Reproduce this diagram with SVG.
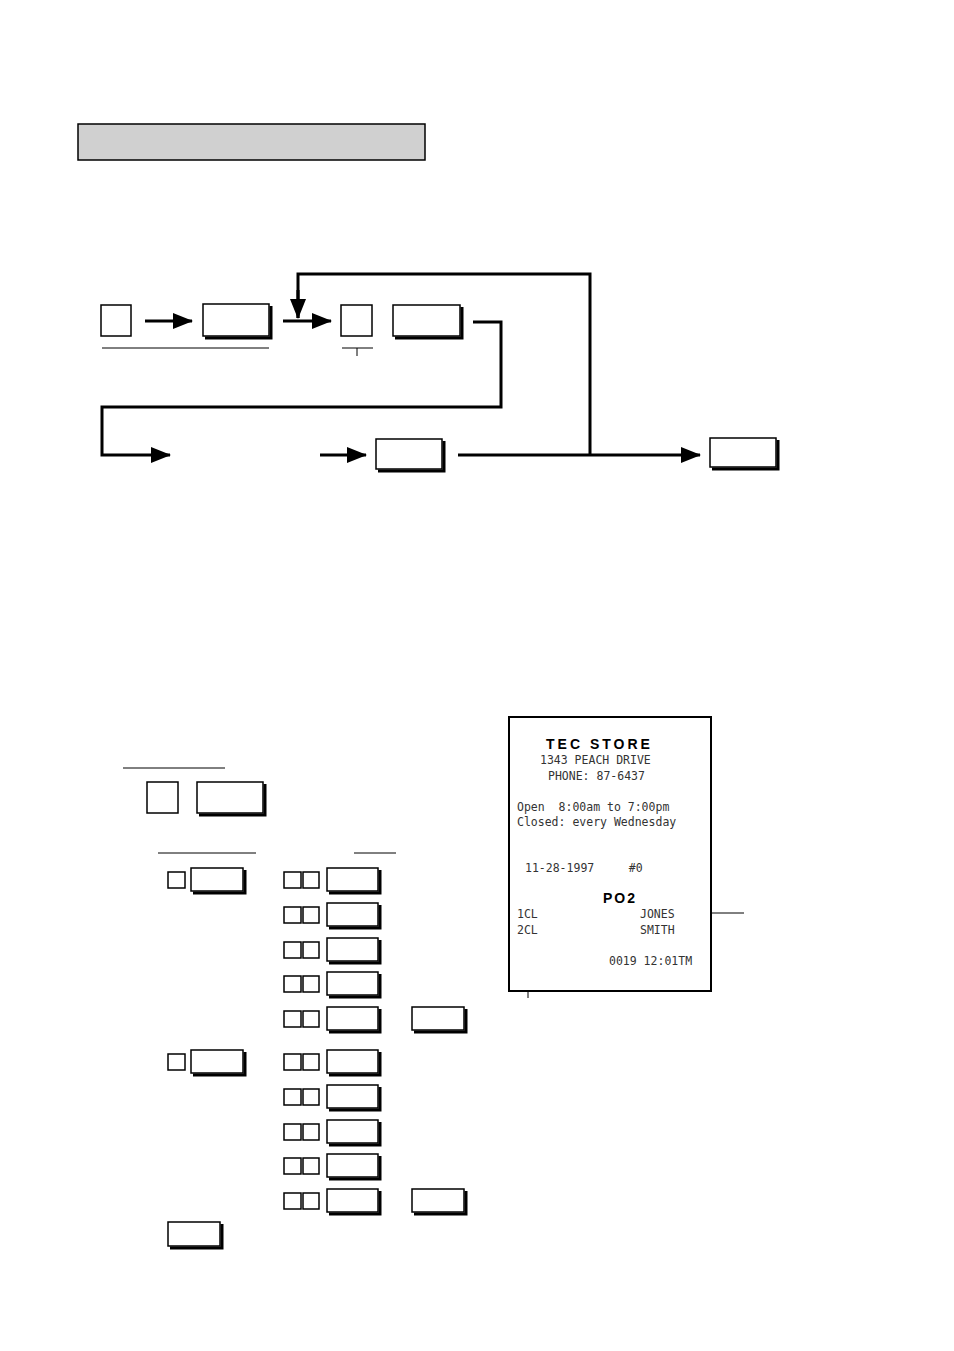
<svg xmlns="http://www.w3.org/2000/svg" width="954" height="1351" viewBox="0 0 954 1351">
<defs>
<style>
.b{fill:#fff;stroke:#000;stroke-width:1.5}
.s{fill:none;stroke:#000;stroke-width:3}
.l{fill:none;stroke:#000;stroke-width:3}
.t{fill:none;stroke:#000;stroke-width:1}
.m{font-family:"DejaVu Sans Mono","Liberation Mono",monospace;font-size:11.5px;fill:#333}
.h{font-family:"Liberation Sans",Arial,sans-serif;font-size:14px;font-weight:bold;letter-spacing:3px}
</style>
<marker id="a" markerWidth="8" markerHeight="6" refX="7" refY="3" orient="auto" markerUnits="userSpaceOnUse" viewBox="0 0 8 6"><path d="M0,0L8,3L0,6z"/></marker>
<marker id="A" viewBox="0 0 20 16" refX="19" refY="8" markerWidth="20" markerHeight="16" orient="auto" markerUnits="userSpaceOnUse"><path d="M0,0L20,8L0,16z"/></marker>
</defs>
<rect x="78" y="124" width="347" height="36" fill="#d0d0d0" stroke="#000" stroke-width="1.5"/>
<g id="connectors">
<path class="l" d="M145,321H192" marker-end="url(#A)"/>
<path class="l" d="M283,321H331" marker-end="url(#A)"/>
<path class="l" d="M298,318V274H590V455" />
<path class="l" d="M298,290V318" marker-end="url(#A)"/>
<path class="l" d="M473,322H501V407H102V455H170" marker-end="url(#A)"/>
<path class="l" d="M320,455H366" marker-end="url(#A)"/>
<path class="l" d="M458,455H700" marker-end="url(#A)"/>
<path class="t" d="M102,348H269M342,348H373M357,348V356M123,768H225M158,853H256M354,853H396M683,913H744M528,940V998"/>
</g>
<g id="n1"><rect class="b" x="101" y="305" width="30" height="31"/></g>
<g id="n2"><path class="s" d="M271,306V338H205"/><rect class="b" x="203" y="304" width="66" height="32"/></g>
<g id="n3"><rect class="b" x="341" y="305" width="31" height="31"/></g>
<g id="n4"><path class="s" d="M462,307V338H395"/><rect class="b" x="393" y="305" width="67" height="31"/></g>
<g id="n5"><path class="s" d="M444,441V471H378"/><rect class="b" x="376" y="439" width="66" height="30"/></g>
<g id="n6"><path class="s" d="M778,440V469H712"/><rect class="b" x="710" y="438" width="66" height="29"/></g>
<g id="n7"><rect class="b" x="147" y="782" width="31" height="31"/></g>
<g id="n8"><path class="s" d="M265,784V815H199"/><rect class="b" x="197" y="782" width="66" height="31"/></g>
<g id="g1">
<rect class="b" x="168" y="872" width="17" height="16"/><path class="s" d="M245,870V893H193"/><rect class="b" x="191" y="868" width="52" height="23"/>
<rect class="b" x="168" y="1054" width="17" height="16"/><path class="s" d="M245,1052V1075H193"/><rect class="b" x="191" y="1050" width="52" height="23"/>
</g>
<g id="rows">
<g transform="translate(0,868)"><rect class="b" x="284" y="4" width="17" height="16"/><rect class="b" x="303" y="4" width="16" height="16"/><path class="s" d="M380,2V25H329"/><rect class="b" x="327" y="0" width="51" height="23"/></g>
<g transform="translate(0,903)"><rect class="b" x="284" y="4" width="17" height="16"/><rect class="b" x="303" y="4" width="16" height="16"/><path class="s" d="M380,2V25H329"/><rect class="b" x="327" y="0" width="51" height="23"/></g>
<g transform="translate(0,938)"><rect class="b" x="284" y="4" width="17" height="16"/><rect class="b" x="303" y="4" width="16" height="16"/><path class="s" d="M380,2V25H329"/><rect class="b" x="327" y="0" width="51" height="23"/></g>
<g transform="translate(0,972)"><rect class="b" x="284" y="4" width="17" height="16"/><rect class="b" x="303" y="4" width="16" height="16"/><path class="s" d="M380,2V25H329"/><rect class="b" x="327" y="0" width="51" height="23"/></g>
<g transform="translate(0,1007)"><rect class="b" x="284" y="4" width="17" height="16"/><rect class="b" x="303" y="4" width="16" height="16"/><path class="s" d="M380,2V25H329"/><rect class="b" x="327" y="0" width="51" height="23"/><path class="s" d="M466,2V25H414"/><rect class="b" x="412" y="0" width="52" height="23"/></g>
<g transform="translate(0,1050)"><rect class="b" x="284" y="4" width="17" height="16"/><rect class="b" x="303" y="4" width="16" height="16"/><path class="s" d="M380,2V25H329"/><rect class="b" x="327" y="0" width="51" height="23"/></g>
<g transform="translate(0,1085)"><rect class="b" x="284" y="4" width="17" height="16"/><rect class="b" x="303" y="4" width="16" height="16"/><path class="s" d="M380,2V25H329"/><rect class="b" x="327" y="0" width="51" height="23"/></g>
<g transform="translate(0,1120)"><rect class="b" x="284" y="4" width="17" height="16"/><rect class="b" x="303" y="4" width="16" height="16"/><path class="s" d="M380,2V25H329"/><rect class="b" x="327" y="0" width="51" height="23"/></g>
<g transform="translate(0,1154)"><rect class="b" x="284" y="4" width="17" height="16"/><rect class="b" x="303" y="4" width="16" height="16"/><path class="s" d="M380,2V25H329"/><rect class="b" x="327" y="0" width="51" height="23"/></g>
<g transform="translate(0,1189)"><rect class="b" x="284" y="4" width="17" height="16"/><rect class="b" x="303" y="4" width="16" height="16"/><path class="s" d="M380,2V25H329"/><rect class="b" x="327" y="0" width="51" height="23"/><path class="s" d="M466,2V25H414"/><rect class="b" x="412" y="0" width="52" height="23"/></g>
</g>
<g id="n9"><path class="s" d="M222,1224V1248H170"/><rect class="b" x="168" y="1222" width="52" height="24"/></g>
<g id="receipt">
<rect x="509" y="717" width="202" height="274" fill="#fff" stroke="#000" stroke-width="2"/>
<text class="h" x="546" y="749">TEC STORE</text>
<text class="m" x="540" y="764">1343 PEACH DRIVE</text>
<text class="m" x="548" y="780">PHONE: 87-6437</text>
<text class="m" x="517" y="811" xml:space="preserve">Open  8:00am to 7:00pm</text>
<text class="m" x="517" y="826">Closed: every Wednesday</text>
<text class="m" x="525" y="872" xml:space="preserve">11-28-1997     #0</text>
<text class="h" x="603" y="903" style="letter-spacing:2px">PO2</text>
<text class="m" x="517" y="918">1CL</text>
<text class="m" x="640" y="918">JONES</text>
<text class="m" x="517" y="934">2CL</text>
<text class="m" x="640" y="934">SMITH</text>
<text class="m" x="609" y="965">0019 12:01TM</text>
</g>
</svg>
